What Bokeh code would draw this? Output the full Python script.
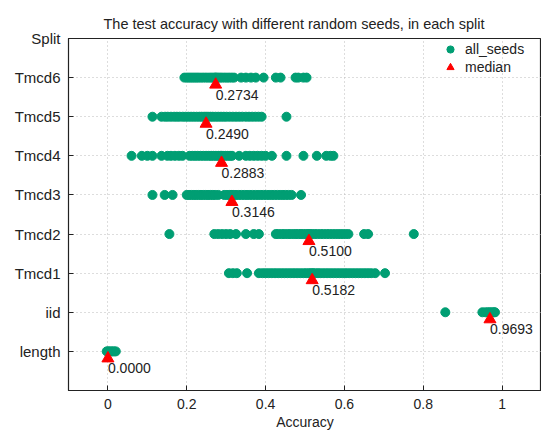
from bokeh.plotting import figure
from bokeh.models import ColumnDataSource, Legend, LegendItem, FixedTicker, Range1d
from bokeh.core.properties import value
from bokeh.embed import file_html
from bokeh.resources import INLINE

splits = ["length", "iid", "Tmcd1", "Tmcd2", "Tmcd3", "Tmcd4", "Tmcd5", "Tmcd6"]
y_axis_title = "Split"

acc_length = [-0.003, 0.000, 0.004, 0.008, 0.012, 0.016, 0.020]
acc_iid = [0.856, 0.950, 0.958, 0.964, 0.969, 0.974, 0.979, 0.982]
acc_tmcd1 = [0.307, 0.317, 0.327, 0.353, 0.383, 0.392, 0.400, 0.408, 0.416, 0.424, 0.432,
             0.440, 0.448, 0.456, 0.464, 0.472, 0.480, 0.488, 0.496, 0.503, 0.510, 0.516,
             0.520, 0.526, 0.533, 0.540, 0.548, 0.556, 0.564, 0.572, 0.580, 0.588, 0.596,
             0.604, 0.612, 0.620, 0.628, 0.636, 0.644, 0.652, 0.660, 0.668, 0.678, 0.703]
acc_tmcd2 = [0.156, 0.270, 0.280, 0.290, 0.300, 0.310, 0.325, 0.350, 0.370, 0.383, 0.426,
             0.432, 0.440, 0.447, 0.455, 0.462, 0.470, 0.477, 0.484, 0.490, 0.496, 0.502,
             0.508, 0.512, 0.518, 0.525, 0.532, 0.540, 0.547, 0.555, 0.562, 0.570, 0.578,
             0.586, 0.594, 0.602, 0.610, 0.650, 0.660, 0.776]
acc_tmcd3 = [0.113, 0.144, 0.164, 0.200, 0.206, 0.212, 0.218, 0.224, 0.230, 0.236, 0.242,
             0.248, 0.254, 0.260, 0.266, 0.272, 0.280, 0.295, 0.302, 0.309, 0.314, 0.318,
             0.325, 0.332, 0.339, 0.346, 0.353, 0.360, 0.367, 0.374, 0.381, 0.388, 0.395,
             0.402, 0.409, 0.416, 0.423, 0.430, 0.437, 0.444, 0.451, 0.458, 0.466, 0.490]
acc_tmcd4 = [0.060, 0.086, 0.100, 0.113, 0.136, 0.151, 0.160, 0.170, 0.180, 0.189, 0.207,
             0.214, 0.221, 0.228, 0.235, 0.242, 0.249, 0.256, 0.262, 0.268, 0.274, 0.280,
             0.285, 0.288, 0.292, 0.298, 0.304, 0.310, 0.315, 0.333, 0.350, 0.360, 0.370,
             0.380, 0.390, 0.400, 0.416, 0.453, 0.496, 0.530, 0.554, 0.565, 0.572]
acc_tmcd5 = [0.113, 0.136, 0.145, 0.152, 0.160, 0.168, 0.175, 0.182, 0.190, 0.197, 0.204,
             0.211, 0.218, 0.225, 0.232, 0.238, 0.244, 0.249, 0.254, 0.260, 0.266, 0.273,
             0.280, 0.287, 0.294, 0.301, 0.309, 0.317, 0.325, 0.333, 0.341, 0.350, 0.358,
             0.366, 0.374, 0.382, 0.390, 0.453]
acc_tmcd6 = [0.194, 0.200, 0.205, 0.210, 0.215, 0.220, 0.225, 0.230, 0.236, 0.242, 0.248,
             0.254, 0.260, 0.265, 0.270, 0.273, 0.276, 0.280, 0.285, 0.290, 0.296, 0.302,
             0.308, 0.314, 0.320, 0.338, 0.350, 0.363, 0.375, 0.395, 0.426, 0.438, 0.476,
             0.483, 0.496, 0.504]

medians = [0.0000, 0.9693, 0.5182, 0.5100, 0.3146, 0.2883, 0.2490, 0.2734]
median_labels = ["0.0000", "0.9693", "0.5182", "0.5100", "0.3146", "0.2883", "0.2490", "0.2734"]

x_ticks = [0, 0.2, 0.4, 0.6, 0.8, 1.0]
x_tick_labels = ["0", "0.2", "0.4", "0.6", "0.8", "1"]

all_acc = [acc_length, acc_iid, acc_tmcd1, acc_tmcd2, acc_tmcd3, acc_tmcd4, acc_tmcd5, acc_tmcd6]
xs, ys = [], []
for i, arr in enumerate(all_acc):
    xs.extend(arr)
    ys.extend([i] * len(arr))
seeds_src = ColumnDataSource(dict(x=xs, y=ys))
med_src = ColumnDataSource(dict(x=medians, y=[i - 0.18 for i in range(len(medians))],
                                yt=list(range(len(medians))), t=median_labels))

FONT = "Liberation Sans"
FS = "14px"
TXT = "#222222"
n = len(splits)

p = figure(width=541, height=432, x_range=Range1d(-0.1, 1.1), y_range=Range1d(-1, n),
           output_backend="svg", toolbar_location=None,
           min_border_left=68, min_border_right=0, min_border_top=38, min_border_bottom=40)

p.title.text = "The test accuracy with different random seeds, in each split"
p.title.text_font = FONT
p.title.text_font_size = "14.5px"
p.title.text_font_style = "normal"
p.title.align = "left"
p.title.offset = 35
p.title.text_color = TXT
p.title.standoff = 14

p.outline_line_color = TXT
p.outline_line_width = 1.2

grid_style = dict(grid_line_color="#bbbbbb", grid_line_dash="1 3", grid_line_width=1)
p.xgrid.ticker = FixedTicker(ticks=x_ticks)
p.ygrid.ticker = FixedTicker(ticks=list(range(n)))
for g in (p.xgrid, p.ygrid):
    for k, v in grid_style.items():
        setattr(g, k, v)

p.xaxis.ticker = FixedTicker(ticks=x_ticks)
p.xaxis.major_label_overrides = {t: l for t, l in zip(x_ticks, x_tick_labels)}
# the y-axis title "Split" sits at the top end of the axis, like gnuplot's ylabel
p.yaxis.ticker = FixedTicker(ticks=list(range(n + 1)))
overrides = {i: s for i, s in enumerate(splits)}
overrides[n] = y_axis_title
p.yaxis.major_label_overrides = overrides
p.xaxis.axis_label = "Accuracy"

for ax in (p.xaxis[0], p.yaxis[0]):
    ax.major_tick_in = 5
    ax.major_tick_out = 0
    ax.minor_tick_line_color = None
    ax.axis_line_color = TXT
    ax.major_tick_line_color = TXT
    ax.major_label_text_font = FONT
    ax.major_label_text_font_size = FS
    ax.major_label_text_color = TXT
    ax.axis_label_text_font = FONT
    ax.axis_label_text_font_size = FS
    ax.axis_label_text_font_style = "normal"
    ax.axis_label_text_color = TXT
p.yaxis.major_label_text_font_size = "15px"
p.xaxis.major_label_standoff = 8
p.xaxis.axis_label_standoff = 2
p.yaxis.major_label_standoff = 8

r_seeds = p.scatter("x", "y", source=seeds_src, size=9, color="#009e73", marker="circle")
r_med = p.scatter("x", "y", source=med_src, size=12, color="#ff0000", marker="triangle")
p.text("x", "yt", text="t", source=med_src, x_offset=0, y_offset=17,
       text_align="left", text_baseline="middle", text_font=value(FONT),
       text_font_size=FS, text_color=TXT)

legend = Legend(items=[LegendItem(label="all_seeds", renderers=[r_seeds]),
                       LegendItem(label="median", renderers=[r_med])],
                location=(372, 314), padding=0, margin=0, spacing=0,
                glyph_width=20, glyph_height=18, label_height=18,
                label_standoff=5, label_text_font=FONT, label_text_font_size=FS,
                label_text_color=TXT,
                background_fill_alpha=0, border_line_color=None)
p.add_layout(legend, "center")

open("out.html", "w").write(file_html(p, INLINE))
